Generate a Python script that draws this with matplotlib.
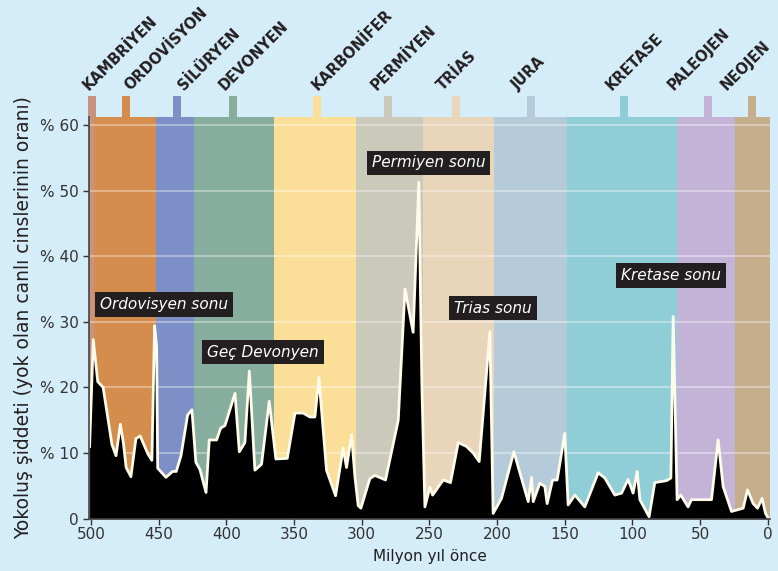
import matplotlib
matplotlib.use("Agg")
import matplotlib.pyplot as plt
from matplotlib.patches import Rectangle

# geological periods: name, start, end (million years ago), colour
period_names = ["KAMBRİYEN", "ORDOVİSYON", "SİLÜRYEN", "DEVONYEN", "KARBONİFER",
                "PERMİYEN", "TRİAS", "JURA", "KRETASE", "PALEOJEN", "NEOJEN"]
period_start = [505, 498, 452, 424, 365, 304, 255, 202, 148, 67, 24]
period_end = [498, 452, 424, 365, 304, 255, 202, 148, 67, 24, -2]
period_colors = ["#c9927c", "#d48d4c", "#7c8fc6", "#86ad9e", "#fbdf99",
                 "#cbc9b9", "#e8d5ba", "#b5cbd9", "#8fcdd7", "#c3b3d7", "#c6ad8c"]
marker_ages = [499.5, 473.8, 436.6, 395.0, 332.9, 280.3, 230.4, 174.9, 106.2, 44.3, 11.8]
label_ages = [502, 471.2, 431.3, 401, 332.9, 289, 240.3, 184.4, 115.4, 69.4, 30.5]

# extinction intensity (% of genera lost)
ages = [501, 498.3, 495, 491, 484.5, 481.5, 478.3, 476, 474, 470.5, 466.8, 463.6,
        458, 455, 453, 451.5, 450.7, 444.6, 439.7, 437, 433.5, 428.6, 425.4, 422.5,
        419.5, 415, 412.6, 407.2, 404.2, 401, 393.6, 390.4, 386.3, 383, 378.9, 374,
        368.3, 363.4, 355, 349.3, 343.2, 338.3, 334.6, 331.6, 326, 319.3, 313.7,
        311.2, 307.5, 305, 302.6, 300.6, 294, 290.3, 282.4, 273, 268, 262, 257.8,
        255.5, 253.3, 249.6, 247.6, 239.8, 234.4, 228.7, 222.5, 217.6, 213.2, 205.3,
        202.9, 196.7, 187.6, 177, 174.5, 173.3, 168.4, 164.7, 163, 159, 155.6, 150,
        147.5, 142.5, 135.2, 125.3, 120.4, 113, 108, 103.2, 99.5, 96.5, 94.5, 87.7,
        83.5, 74.8, 71.6, 69.9, 67, 64.3, 58.9, 56.4, 41.6, 36.7, 33, 26.8, 18.2,
        15, 10.8, 7.6, 4.2, 1.7, 0]
intensity = [11, 27.3, 20.9, 20.0, 11.3, 9.6, 14.4, 11.5, 7.8, 6.4, 12.2, 12.6,
             9.9, 8.9, 29.4, 26.2, 7.7, 6.3, 7.2, 7.2, 9.6, 15.8, 16.6, 8.6,
             7.5, 4.0, 12.0, 12.0, 13.8, 14.2, 19.1, 10.2, 11.6, 22.5, 7.4, 8.3,
             17.9, 9.1, 9.2, 16.1, 16.1, 15.5, 15.5, 21.5, 7.4, 3.5, 10.8,
             7.8, 12.8, 6.4, 2.0, 1.6, 6.1, 6.6, 5.9, 15.0, 35.0, 28.4, 51.3,
             20.0, 1.8, 4.8, 3.6, 5.9, 5.5, 11.6, 11.0, 10.0, 8.7, 28.5,
             0.8, 3.1, 10.2, 2.6, 6.3, 2.6, 5.4, 4.9, 2.3, 5.9, 5.9, 13.0,
             2.1, 3.6, 1.8, 7.0, 6.2, 3.6, 3.9, 6.0, 3.9, 7.2, 2.9, 0.3,
             5.5, 5.8, 6.2, 30.8, 2.9, 3.6, 1.8, 2.9, 2.9, 12.0, 4.9, 1.1, 1.6,
             4.4, 2.3, 1.6, 3.1, 0.8, 0.2]

# annotation boxes: text, age, value
event_texts = ["Ordovisyen sonu", "Geç Devonyen", "Permiyen sonu", "Trias sonu", "Kretase sonu"]
event_ages = [446, 373, 250.4, 202.9, 71.7]
event_values = [32.6, 25.4, 54.2, 32.1, 37.1]

yticks = [0, 10, 20, 30, 40, 50, 60]
ytick_labels = ["0", "% 10", "% 20", "% 30", "% 40", "% 50", "% 60"]
xticks = [500, 450, 400, 350, 300, 250, 200, 150, 100, 50, 0]

BG = "#d5ecf9"
XMAX, XMIN = 501.1, -1.5
YTOP = 61.2

fig = plt.figure(figsize=(7.78, 5.71), dpi=100, facecolor=BG)
ax = fig.add_axes([0.115, 0.0916, 0.8745, 0.7034])
ax.set_facecolor(BG)
ax.set_xlim(XMAX, XMIN)
ax.set_ylim(0, YTOP)

# coloured period bands
for s, e, c in zip(period_start, period_end, period_colors):
    ax.axvspan(s, e, color=c, lw=0, zorder=0)

for v in yticks[1:]:
    ax.axhline(v, color="white", alpha=0.35, lw=1.5, zorder=1)

# period markers and names above the plot
for name, m, la, c in zip(period_names, marker_ages, label_ages, period_colors):
    ax.add_patch(Rectangle((m + 2.9, YTOP), -5.8, 3.2, color=c, lw=0,
                           clip_on=False, zorder=2))
    ax.text(la, 65.2, name, rotation=45, rotation_mode="anchor", ha="left",
            va="baseline", fontsize=10.5, fontweight="bold", color="#231f20")

# extinction curve
ax.fill_between(ages, intensity, 0, color="black", lw=0, zorder=3)
ax.plot(ages, intensity, color="#fffbea", lw=2, zorder=4)

for t, a, v in zip(event_texts, event_ages, event_values):
    ax.text(a, v, t, ha="center", va="center", fontsize=11, style="italic",
            color="white", zorder=6,
            bbox=dict(boxstyle="square,pad=0.32", fc="#231f20", ec="none"))

ax.set_xticks(xticks)
ax.set_xticklabels([str(x) for x in xticks])
ax.set_yticks(yticks)
ax.set_yticklabels(ytick_labels)
ax.tick_params(axis="both", colors="#333333", labelsize=11, length=4, width=1)
ax.tick_params(axis="x", pad=2)
for sp in ["top", "right"]:
    ax.spines[sp].set_visible(False)
for sp in ["left", "bottom"]:
    ax.spines[sp].set_color("#444444")
    ax.spines[sp].set_linewidth(1.2)
    ax.spines[sp].set_zorder(5)

ax.set_xlabel("Milyon yıl önce", fontsize=11, color="#231f20", labelpad=5)
ax.set_ylabel("Yokoluş şiddeti (yok olan canlı cinslerinin oranı)", fontsize=13.5,
              color="#231f20", labelpad=5)

fig.savefig("out.png", dpi=100, facecolor=BG)
